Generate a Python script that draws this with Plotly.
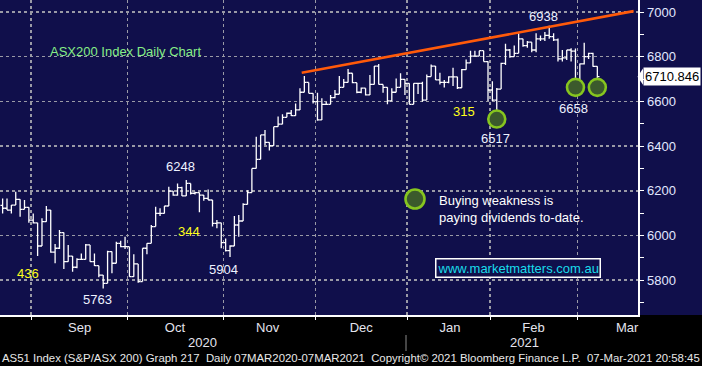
import plotly.graph_objects as go

# ---------------- data (ASX200 daily bars, 21-Aug-2020 .. 05-Mar-2021, by trading-day index) -------------
opens = [6135, 6122, 6114, 6136, 6162, 6117, 6126, 6069, 6057, 5953,
         6062, 6114, 5926, 5943, 6013, 5883, 5908, 5858, 5893, 5893,
         5958, 5883, 5865, 5823, 5786, 5928, 5876, 5965, 5950, 5950,
         5816, 5873, 5794, 5943, 5965, 6040, 6099, 6099, 6132, 6199,
         6181, 6214, 6177, 6233, 6189, 6192, 6181, 6166, 6159, 6054,
         6057, 5968, 5932, 5953, 6047, 6065, 6139, 6192, 6300, 6341,
         6450, 6417, 6402, 6487, 6498, 6529, 6547, 6536, 6562, 6641,
         6685, 6636, 6599, 6517, 6587, 6587, 6617, 6632, 6663, 6685,
         6726, 6684, 6641, 6659, 6629, 6676, 6758, 6676, 6663, 6602,
         6641, 6663, 6699, 6681, 6587, 6681, 6681, 6606, 6711, 6758,
         6696, 6685, 6685, 6710, 6710, 6661, 6742, 6772, 6803, 6803,
         6827, 6778, 6651, 6606, 6655, 6770, 6830, 6800, 6815, 6880,
         6850, 6865, 6830, 6880, 6880, 6895, 6890, 6875, 6790, 6795,
         6830, 6825, 6690, 6768, 6800, 6815, 6757]
highs = [6166, 6166, 6136, 6196, 6162, 6159, 6126, 6099, 6057, 6077,
         6132, 6114, 5962, 6025, 6013, 5958, 5908, 5898, 5920, 5962,
         5958, 5920, 5865, 5823, 5932, 5928, 5972, 5977, 5995, 5950,
         5916, 5873, 5943, 5965, 6047, 6129, 6122, 6132, 6218, 6199,
         6233, 6218, 6248, 6233, 6196, 6192, 6181, 6206, 6159, 6069,
         6057, 5987, 5957, 6087, 6092, 6144, 6203, 6300, 6442, 6450,
         6472, 6417, 6487, 6532, 6542, 6550, 6562, 6591, 6659, 6714,
         6685, 6636, 6639, 6614, 6599, 6629, 6651, 6714, 6700, 6745,
         6726, 6684, 6662, 6659, 6718, 6758, 6767, 6676, 6663, 6659,
         6703, 6726, 6699, 6681, 6681, 6681, 6688, 6720, 6765, 6758,
         6728, 6696, 6713, 6751, 6710, 6745, 6787, 6827, 6827, 6827,
         6827, 6780, 6690, 6660, 6773, 6858, 6835, 6850, 6905, 6880,
         6870, 6865, 6905, 6895, 6910, 6938, 6905, 6882, 6830, 6830,
         6838, 6837, 6770, 6862, 6818, 6818, 6757]
lows = [6099, 6114, 6099, 6136, 6084, 6117, 6057, 6054, 5908, 5953,
        6062, 5923, 5876, 5940, 5850, 5883, 5838, 5853, 5890, 5893,
        5883, 5864, 5813, 5763, 5786, 5831, 5876, 5947, 5940, 5816,
        5816, 5789, 5794, 5916, 5965, 6040, 6087, 6099, 6132, 6178,
        6178, 6177, 6177, 6184, 6184, 6104, 6156, 6159, 6040, 6032,
        5943, 5928, 5904, 5953, 5995, 6065, 6139, 6192, 6300, 6341,
        6405, 6380, 6402, 6487, 6498, 6529, 6535, 6536, 6562, 6641,
        6636, 6591, 6514, 6517, 6587, 6587, 6614, 6632, 6663, 6685,
        6681, 6636, 6636, 6626, 6629, 6676, 6676, 6639, 6587, 6602,
        6641, 6663, 6629, 6587, 6587, 6633, 6599, 6606, 6711, 6696,
        6676, 6662, 6681, 6669, 6656, 6661, 6742, 6772, 6803, 6803,
        6778, 6602, 6602, 6517, 6655, 6763, 6795, 6800, 6815, 6845,
        6840, 6820, 6820, 6870, 6870, 6880, 6870, 6778, 6778, 6785,
        6778, 6658, 6680, 6765, 6790, 6755, 6703]
closes = [6122, 6114, 6136, 6162, 6117, 6126, 6069, 6057, 5953, 6062,
          6114, 5926, 5943, 6013, 5883, 5908, 5858, 5893, 5893, 5958,
          5883, 5865, 5823, 5786, 5928, 5876, 5965, 5950, 5950, 5816,
          5873, 5794, 5943, 5965, 6040, 6099, 6099, 6132, 6199, 6181,
          6214, 6177, 6233, 6189, 6192, 6181, 6166, 6159, 6054, 6057,
          5968, 5932, 5953, 6047, 6065, 6139, 6192, 6300, 6341, 6450,
          6417, 6402, 6487, 6498, 6529, 6547, 6536, 6562, 6641, 6685,
          6636, 6599, 6517, 6587, 6587, 6617, 6632, 6663, 6685, 6726,
          6684, 6641, 6659, 6629, 6676, 6758, 6676, 6663, 6602, 6641,
          6663, 6699, 6681, 6587, 6681, 6681, 6606, 6711, 6758, 6696,
          6685, 6685, 6710, 6710, 6661, 6742, 6772, 6803, 6803, 6827,
          6778, 6651, 6606, 6655, 6770, 6830, 6800, 6815, 6880, 6850,
          6865, 6830, 6880, 6880, 6895, 6890, 6875, 6790, 6795, 6830,
          6825, 6690, 6768, 6800, 6815, 6757, 6710.846]

months = ["Sep", "Oct", "Nov", "Dec", "Jan", "Feb", "Mar"]
month_label_pos = [17.6, 39.4, 60.6, 82.0, 102.3, 121.4, 142.8]
month_starts = [6.5, 28.5, 50.5, 71.5, 92.5, 111.5, 131.5]
y_ticks = [5800, 6000, 6200, 6400, 6600, 6800, 7000]

trend_x = [68.4, 144.3]
trend_y = [6728, 7004]

circle_x = [113, 131, 136]
circle_y = [6521, 6663, 6663]

# value call-outs: (text, x-index, price)
highlow_labels = [("6248", 40.6, 6307), ("5763", 21.6, 5716), ("5904", 50.6, 5846),
                  ("6517", 112.6, 6436), ("6938", 123.6, 6982), ("6658", 130.5, 6570)]
move_labels = [("436", 5.8, 5832), ("344", 42.7, 6020), ("315", 105.5, 6557)]
last_price = closes[-1]

# ---------------- figure ----------------
NAVY = "#100f4b"
W, H = 702, 366
L, R, T, B = 0, 64, 0, 51
PW, PH = W - L - R, H - T - B
XR = [-0.6, 145.3]
YR = [5644.4, 7053.7]

def px(xp):
    return xp / PW

def py(yp):
    return (PH - yp) / PH

idx = list(range(len(closes)))

fig = go.Figure()

fig.add_trace(go.Scatter(
    x=trend_x, y=trend_y, mode="lines",
    line=dict(color="#ff5a0a", width=2.6), hoverinfo="skip", showlegend=False))

fig.add_trace(go.Scatter(
    x=circle_x, y=circle_y, mode="markers",
    marker=dict(size=17, color="#3b5a2c", line=dict(color="#86c51f", width=2.6)),
    hoverinfo="skip", showlegend=False))

fig.add_trace(go.Ohlc(
    x=idx, open=opens, high=highs, low=lows, close=closes,
    increasing=dict(line=dict(color="white", width=1.3)),
    decreasing=dict(line=dict(color="white", width=1.3)),
    tickwidth=0.5, showlegend=False, hoverinfo="skip"))

# little pointer triangles beside the right-axis labels
fig.add_trace(go.Scatter(
    x=[146.0] * len(y_ticks), y=y_ticks, mode="markers", cliponaxis=False,
    marker=dict(symbol="triangle-right", size=6, color="white", line=dict(width=0)),
    hoverinfo="skip", showlegend=False))

FONT = "Liberation Sans, Arial, sans-serif"
NARROW = "Liberation Sans Narrow, Arial Narrow, Liberation Sans, Arial, sans-serif"

fig.update_layout(
    width=W, height=H, autosize=False,
    margin=dict(l=L, r=R, t=T, b=B, pad=0),
    paper_bgcolor=NAVY, plot_bgcolor=NAVY,
    showlegend=False,
    font=dict(family=FONT, color="white"),
    xaxis=dict(
        range=XR, rangeslider=dict(visible=False), fixedrange=True, automargin=False,
        showline=True, linecolor="white", linewidth=1.5,
        tickmode="array", tickvals=month_label_pos, ticktext=months,
        ticks="", showgrid=False, zeroline=False,
        tickfont=dict(family=NARROW, size=13, color="#e4e4ee"),
        minor=dict(tickmode="array", tickvals=month_starts, ticks="outside",
                   ticklen=3, tickcolor="white", tickwidth=1,
                   showgrid=True, gridcolor="#9a9aa6", griddash="dot", gridwidth=1.5),
    ),
    yaxis=dict(
        range=YR, side="right", fixedrange=True, automargin=False,
        showline=True, linecolor="white", linewidth=1.5,
        tickmode="array", tickvals=y_ticks, ticks="outside", ticklen=4,
        tickcolor="white", ticklabelstandoff=1,
        tickfont=dict(family=FONT, size=13, color="#e2e8ff"),
        showgrid=True, gridcolor="#9a9aa6", griddash="dot", gridwidth=1.5,
        zeroline=False,
        minor=dict(dtick=100, ticks="outside", ticklen=4, tickcolor="white", showgrid=False),
    ),
)

shapes = [
    # black band under the chart
    dict(type="rect", xref="paper", yref="paper", x0=-0.01, x1=1.2, y0=-0.3, y1=0,
         fillcolor="black", line=dict(width=0), layer="below"),
    # separator between year labels
    dict(type="line", xref="paper", yref="paper", x0=px(406), x1=px(406), y0=py(335), y1=py(351),
         line=dict(color="#8a8a8a", width=1)),
    # legend circle
    dict(type="circle", xref="paper", yref="paper",
         x0=px(405.5), x1=px(424.5), y0=py(208.5), y1=py(189.5),
         fillcolor="#3b5a2c", line=dict(color="#86c51f", width=2.6)),
    # pointer of the last-price tag
    dict(type="path", xref="paper", yref="y",
         path=f"M {px(637.5)},{last_price} L {px(643)},{last_price + 36} L {px(643)},{last_price - 36} Z",
         fillcolor="white", line=dict(width=0)),
]
fig.update_layout(shapes=shapes)

ann = []
ann.append(dict(xref="paper", yref="paper", x=px(48), y=py(52), xanchor="left", yanchor="middle",
                text="ASX200 Index Daily Chart", showarrow=False,
                font=dict(family=FONT, size=13, color="#86ee86")))
for t, xv, yv in highlow_labels:
    ann.append(dict(x=xv, y=yv, text=t, showarrow=False, xanchor="center", yanchor="middle",
                    font=dict(family=FONT, size=13, color="#eef2ff")))
for t, xv, yv in move_labels:
    ann.append(dict(x=xv, y=yv, text=t, showarrow=False, xanchor="center", yanchor="middle",
                    font=dict(family=FONT, size=13, color="#ffff1a")))
ann.append(dict(xref="paper", yref="paper", x=px(437), y=py(209), xanchor="left", yanchor="middle",
                text="Buying weakness is<br>paying dividends to-date.", showarrow=False, align="left",
                font=dict(family=FONT, size=13, color="white")))
ann.append(dict(xref="paper", yref="paper", x=px(517.5), y=py(268), xanchor="center", yanchor="middle",
                text="www.marketmatters.com.au", showarrow=False,
                bordercolor="white", borderwidth=1.5, borderpad=1, bgcolor=NAVY,
                font=dict(family=FONT, size=13, color="#19dcea")))
ann.append(dict(xref="paper", yref="y", x=px(643), y=last_price, xanchor="left", yanchor="middle",
                text=f"{last_price:.3f}", showarrow=False, bgcolor="white", borderpad=1,
                font=dict(family=FONT, size=13, color="black")))
ann.append(dict(xref="paper", yref="paper", x=px(202), y=py(342), text="2020", showarrow=False,
                xanchor="center", yanchor="middle", font=dict(family=NARROW, size=13, color="#e4e4ee")))
ann.append(dict(xref="paper", yref="paper", x=px(524), y=py(342), text="2021", showarrow=False,
                xanchor="center", yanchor="middle", font=dict(family=NARROW, size=13, color="#e4e4ee")))
ann.append(dict(xref="paper", yref="paper", x=px(351), y=py(358), xanchor="center", yanchor="middle",
                text="AS51 Index (S&amp;P/ASX 200) Graph 217&nbsp;&nbsp;Daily 07MAR2020-07MAR2021&nbsp;&nbsp;"
                     "Copyright© 2021 Bloomberg Finance L.P.&nbsp;&nbsp;07-Mar-2021 20:58:45",
                showarrow=False, font=dict(family=NARROW, size=11.4, color="#e8e8e8")))
fig.update_layout(annotations=ann)

fig.write_html(
    "out.html",
    config={"displayModeBar": False, "staticPlot": True},
    post_script="document.body.style.margin='0';document.body.style.padding='0';"
                "document.body.style.overflow='hidden';",
)
